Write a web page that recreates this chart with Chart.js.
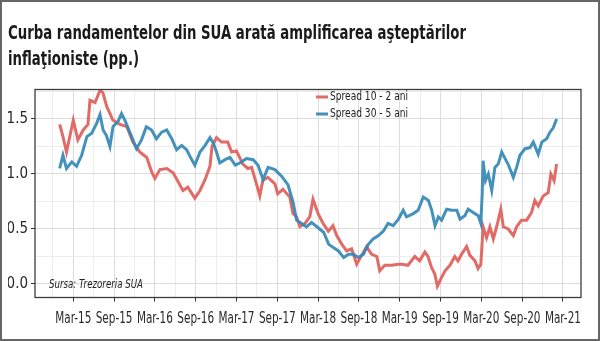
<!DOCTYPE html>
<html lang="ro">
<head>
    <meta charset="UTF-8">
    <title>Curba randamentelor din SUA</title>
    <script src="https://cdn.jsdelivr.net/npm/chart.js"></script>
    <style>
        html, body { margin: 0; padding: 0; background: #fff; }
        canvas { display: block; }
    </style>
</head>
<body>
<canvas id="grafic" width="600" height="341"></canvas>

<script>
    // Titlu si texte
    const TITLE = ['Curba randamentelor din SUA arată amplificarea aşteptărilor', 'inflaţioniste (pp.)'];
    const SOURCE = 'Sursa: Trezoreria SUA';

    // Etichete axe
    const X_LABELS = ['Mar-15', 'Sep-15', 'Mar-16', 'Sep-16', 'Mar-17', 'Sep-17', 'Mar-18',
        'Sep-18', 'Mar-19', 'Sep-19', 'Mar-20', 'Sep-20', 'Mar-21'];
    const Y_LABELS = ['0.0', '0.5', '1.0', '1.5'];

    // Spread 10 - 2 ani
    const DATES_10_2 = [
        '2015-01-01', '2015-01-16', '2015-02-01', '2015-03-01', '2015-03-22', '2015-04-15', '2015-05-06', '2015-05-15',
        '2015-06-07', '2015-06-29', '2015-07-12', '2015-07-30', '2015-08-13', '2015-08-26', '2015-09-27', '2015-10-28',
        '2015-11-24', '2015-12-25',
        '2016-01-26', '2016-02-18', '2016-03-01', '2016-03-24', '2016-04-24', '2016-05-22', '2016-06-08', '2016-07-05',
        '2016-07-27', '2016-08-28', '2016-09-20', '2016-10-13', '2016-11-04', '2016-11-13', '2016-12-03', '2016-12-26',
        '2017-01-23', '2017-02-09', '2017-03-01', '2017-03-30', '2017-04-21', '2017-05-08', '2017-05-30', '2017-06-14',
        '2017-06-27', '2017-07-20', '2017-08-21', '2017-09-03', '2017-09-26', '2017-10-27', '2017-11-10', '2017-11-26',
        '2017-12-11',
        '2018-01-03', '2018-01-25', '2018-02-08', '2018-03-01', '2018-03-24', '2018-04-16', '2018-05-07', '2018-05-24',
        '2018-06-16', '2018-07-07', '2018-07-30', '2018-08-22', '2018-09-13', '2018-10-05', '2018-10-28', '2018-11-20',
        '2018-12-03', '2018-12-26',
        '2019-01-27', '2019-02-24', '2019-03-10', '2019-04-07', '2019-05-08', '2019-05-30', '2019-06-22', '2019-07-06',
        '2019-07-22', '2019-08-06', '2019-08-18', '2019-09-06', '2019-09-21', '2019-10-13', '2019-11-04', '2019-11-18',
        '2019-12-04', '2019-12-27',
        '2020-01-11', '2020-02-03', '2020-02-16', '2020-02-28', '2020-03-05', '2020-03-09', '2020-03-25', '2020-04-09',
        '2020-04-24', '2020-05-09', '2020-05-28', '2020-06-08', '2020-06-30', '2020-07-23', '2020-08-07', '2020-08-29',
        '2020-09-21', '2020-10-13', '2020-10-28', '2020-11-12', '2020-12-04', '2020-12-27',
        '2021-01-08', '2021-01-23', '2021-02-03'
    ];
    const SPREAD_10_2 = [
        1.45, 1.34, 1.20, 1.49, 1.31, 1.40, 1.45, 1.67, 1.65, 1.76, 1.74, 1.61, 1.55, 1.49, 1.45, 1.43, 1.29, 1.20,
        1.15, 1.01, 0.96, 1.04, 1.05, 1.01, 0.95, 0.85, 0.88, 0.78, 0.85, 0.95, 1.07, 1.25, 1.33, 1.29,
        1.29, 1.20, 1.21, 1.09, 1.05, 1.06, 0.91, 0.80, 0.94, 0.97, 0.91, 0.82, 0.86, 0.79, 0.64, 0.61, 0.52,
        0.55, 0.61, 0.77, 0.64, 0.55, 0.48, 0.53, 0.44, 0.36, 0.30, 0.32, 0.18, 0.26, 0.34, 0.27, 0.25, 0.12, 0.17,
        0.17, 0.18, 0.18, 0.17, 0.25, 0.21, 0.29, 0.25, 0.15, 0.09, -0.02, 0.06, 0.12, 0.17, 0.25, 0.21, 0.27, 0.34,
        0.26, 0.21, 0.14, 0.18, 0.38, 0.52, 0.42, 0.52, 0.41, 0.52, 0.68, 0.52, 0.50, 0.44, 0.52, 0.58, 0.58, 0.65,
        0.76, 0.71, 0.80, 0.83,
        1.00, 0.94, 1.09
    ];

    // Spread 30 - 5 ani
    const DATES_30_5 = [
        '2015-01-01', '2015-01-16', '2015-02-01', '2015-02-23', '2015-03-16', '2015-04-08', '2015-05-01', '2015-05-23',
        '2015-06-14', '2015-06-29', '2015-07-13', '2015-07-28', '2015-08-13', '2015-08-27', '2015-09-19', '2015-10-04',
        '2015-10-19', '2015-11-10', '2015-12-10',
        '2016-01-02', '2016-01-24', '2016-02-16', '2016-03-08', '2016-04-01', '2016-04-23', '2016-05-16', '2016-06-07',
        '2016-06-29', '2016-07-22', '2016-08-06', '2016-08-28', '2016-09-20', '2016-10-13', '2016-11-04', '2016-11-19',
        '2016-12-03', '2016-12-18',
        '2017-01-11', '2017-02-02', '2017-02-24', '2017-03-16', '2017-04-15', '2017-05-15', '2017-06-06', '2017-06-28',
        '2017-07-21', '2017-08-21', '2017-09-20', '2017-10-19', '2017-11-11', '2017-11-26', '2017-12-19',
        '2018-01-10', '2018-02-02', '2018-02-24', '2018-03-26', '2018-04-18', '2018-05-10', '2018-06-01', '2018-06-24',
        '2018-07-16', '2018-08-07', '2018-08-29', '2018-09-21', '2018-10-13', '2018-11-04', '2018-11-27', '2018-12-19',
        '2019-01-10', '2019-02-02', '2019-02-24', '2019-03-17', '2019-04-01', '2019-05-01', '2019-05-23', '2019-06-15',
        '2019-07-08', '2019-07-23', '2019-08-07', '2019-08-22', '2019-09-06', '2019-09-28', '2019-10-21', '2019-11-13',
        '2019-11-27', '2019-12-19',
        '2020-01-03', '2020-01-26', '2020-02-17', '2020-02-28', '2020-03-05', '2020-03-09', '2020-03-20', '2020-04-02',
        '2020-04-17', '2020-05-01', '2020-05-16', '2020-06-01', '2020-06-16', '2020-07-01', '2020-07-23', '2020-08-07',
        '2020-08-22', '2020-09-14', '2020-10-06', '2020-10-21', '2020-11-12', '2020-11-28', '2020-12-20',
        '2021-01-04', '2021-01-19', '2021-02-03'
    ];
    const SPREAD_30_5 = [
        1.05, 1.17, 1.05, 1.11, 1.07, 1.17, 1.34, 1.37, 1.46, 1.54, 1.40, 1.35, 1.25, 1.43, 1.48, 1.55, 1.49, 1.38, 1.23,
        1.31, 1.43, 1.40, 1.32, 1.38, 1.40, 1.32, 1.22, 1.26, 1.22, 1.16, 1.08, 1.20, 1.26, 1.33, 1.28, 1.20, 1.10,
        1.13, 1.15, 1.08, 1.10, 1.14, 1.13, 1.08, 0.95, 1.06, 1.04, 0.98, 0.90, 0.74, 0.58, 0.55,
        0.52, 0.56, 0.52, 0.47, 0.36, 0.33, 0.30, 0.24, 0.27, 0.27, 0.24, 0.27, 0.36, 0.41, 0.44, 0.48,
        0.55, 0.53, 0.59, 0.67, 0.61, 0.64, 0.67, 0.79, 0.76, 0.67, 0.53, 0.61, 0.58, 0.68, 0.67, 0.67, 0.59, 0.62,
        0.68, 0.65, 0.62, 0.55, 0.82, 1.12, 0.94, 1.00, 0.85, 1.06, 1.09, 1.20, 1.14, 1.08, 0.97, 1.06, 1.17, 1.23,
        1.24, 1.29, 1.18, 1.29, 1.32,
        1.38, 1.42, 1.50
    ];

    const RED = 'rgba(222, 94, 89, 0.92)';
    const BLUE = 'rgba(52, 136, 182, 0.92)';
    const FONT = "'Liberation Sans Narrow', 'DejaVu Sans Condensed', 'Liberation Sans', sans-serif";

    // luni de la martie 2015 (Mar-15 = 0)
    function lunaX(s) {
        const [y, m, d] = s.split('-').map(Number);
        const zile = new Date(y, m, 0).getDate();
        return (y - 2015) * 12 + (m - 3) + (d - 1) / zile;
    }

    function puncte(date, valori) {
        return date.map((d, i) => ({ x: lunaX(d), y: valori[i] }));
    }

    const esteMajorX = v => Math.abs(v % 6) < 1e-6;
    const esteMajorY = v => Math.abs(v * 2 - Math.round(v * 2)) < 1e-6;

    // desene suplimentare: titlu, rama, legenda, sursa, etichete axa X
    const decor = {
        id: 'decor',
        beforeDraw(chart) {
            const ctx = chart.ctx;
            ctx.save();
            ctx.fillStyle = '#fff';
            ctx.fillRect(0, 0, chart.width, chart.height);
            ctx.restore();
        },
        afterDatasetsDraw(chart) {
            const ctx = chart.ctx;
            const a = chart.chartArea;
            ctx.save();

            // rama graficului
            ctx.strokeStyle = '#3c3c3c';
            ctx.lineWidth = 1.3;
            ctx.strokeRect(a.left, a.top, a.right - a.left, a.bottom - a.top);

            // legenda (text ingustat ca in original)
            ctx.font = '13px ' + FONT;
            ctx.textBaseline = 'middle';
            ctx.fillStyle = '#222';
            const k = Math.min(1, 78 / ctx.measureText(chart.data.datasets[0].label).width);
            chart.data.datasets.forEach((ds, i) => {
                const y = 97 + i * 17;
                ctx.strokeStyle = ds.borderColor;
                ctx.lineWidth = 3;
                ctx.beginPath();
                ctx.moveTo(316, y);
                ctx.lineTo(328, y);
                ctx.stroke();
                ctx.fillText(ds.label, 330, y, ctx.measureText(ds.label).width * k);
            });

            // sursa
            ctx.font = 'italic 13px ' + FONT;
            ctx.textBaseline = 'alphabetic';
            ctx.fillText(SOURCE, 49, 288, 94);

            // etichete axa X, pozitionate prin scala, ingustate ca fontul condensat din original
            const sx = chart.scales.x;
            ctx.font = '15px ' + FONT;
            ctx.fillStyle = '#2a2a2a';
            ctx.textAlign = 'center';
            ctx.textBaseline = 'middle';
            const kx = Math.min(1, 36 / ctx.measureText(X_LABELS[0]).width);
            X_LABELS.forEach((lab, i) => {
                ctx.fillText(lab, sx.getPixelForValue(i * 6), 319, ctx.measureText(lab).width * kx);
            });
            ctx.restore();
        },
        afterDraw(chart) {
            const ctx = chart.ctx;
            ctx.save();

            // titlu comprimat pe latime ca in original
            ctx.font = 'bold 20px ' + FONT;
            ctx.fillStyle = '#1a1a1a';
            ctx.textBaseline = 'alphabetic';
            const f = Math.min(1, 458 / ctx.measureText(TITLE[0]).width);
            TITLE.forEach((t, i) => {
                ctx.fillText(t, 8, 39 + i * 26, ctx.measureText(t).width * f);
            });

            // chenar exterior
            ctx.strokeStyle = '#666';
            ctx.lineWidth = 2;
            ctx.strokeRect(1, 1, chart.width - 2, chart.height - 2);
            ctx.restore();
        }
    };

    const ctx = document.getElementById('grafic').getContext('2d');
    const chart = new Chart(ctx, {
        type: 'line',
        data: {
            datasets: [
                {
                    label: 'Spread 10 - 2 ani',
                    data: puncte(DATES_10_2, SPREAD_10_2),
                    borderColor: RED,
                    borderWidth: 3,
                    pointRadius: 0,
                    tension: 0,
                    order: 1
                },
                {
                    label: 'Spread 30 - 5 ani',
                    data: puncte(DATES_30_5, SPREAD_30_5),
                    borderColor: BLUE,
                    borderWidth: 3,
                    pointRadius: 0,
                    tension: 0,
                    order: 0
                }
            ]
        },
        options: {
            responsive: false,
            animation: false,
            devicePixelRatio: 1,
            layout: { padding: { top: 89.5, left: 8, right: 19, bottom: 0 } },
            plugins: {
                legend: { display: false },
                tooltip: { enabled: false },
                title: { display: false }
            },
            scales: {
                x: {
                    type: 'linear',
                    min: -5.63,
                    max: 74.66,
                    afterBuildTicks: axis => {
                        const t = [];
                        for (let v = -3; v <= 72; v += 3) t.push({ value: v });
                        axis.ticks = t;
                    },
                    afterFit: scale => { scale.height = 43.5; },
                    border: { display: false },
                    grid: {
                        color: c => c.tick && esteMajorX(c.tick.value) ? '#dcdcdc' : '#ededed',
                        tickColor: c => c.tick && esteMajorX(c.tick.value) && c.tick.value >= 0 ? '#333' : 'rgba(0,0,0,0)',
                        tickLength: 4,
                        lineWidth: 1
                    },
                    ticks: {
                        display: false,
                        autoSkip: false
                    }
                },
                y: {
                    min: -0.123,
                    max: 1.768,
                    afterBuildTicks: axis => {
                        const t = [];
                        for (let v = 0; v <= 1.75 + 1e-9; v += 0.25) t.push({ value: Math.round(v * 100) / 100 });
                        axis.ticks = t;
                    },
                    afterFit: scale => { scale.width = 27; },
                    border: { display: false },
                    grid: {
                        color: c => c.tick && esteMajorY(c.tick.value) ? '#dcdcdc' : '#ededed',
                        tickColor: c => c.tick && esteMajorY(c.tick.value) ? '#333' : 'rgba(0,0,0,0)',
                        tickLength: 4,
                        lineWidth: 1
                    },
                    ticks: {
                        padding: 3,
                        color: '#2a2a2a',
                        font: { family: FONT, size: 15 },
                        callback: v => esteMajorY(v) ? Y_LABELS[Math.round(v * 2)] : ''
                    }
                }
            }
        },
        plugins: [decor]
    });
</script>
</body>
</html>
